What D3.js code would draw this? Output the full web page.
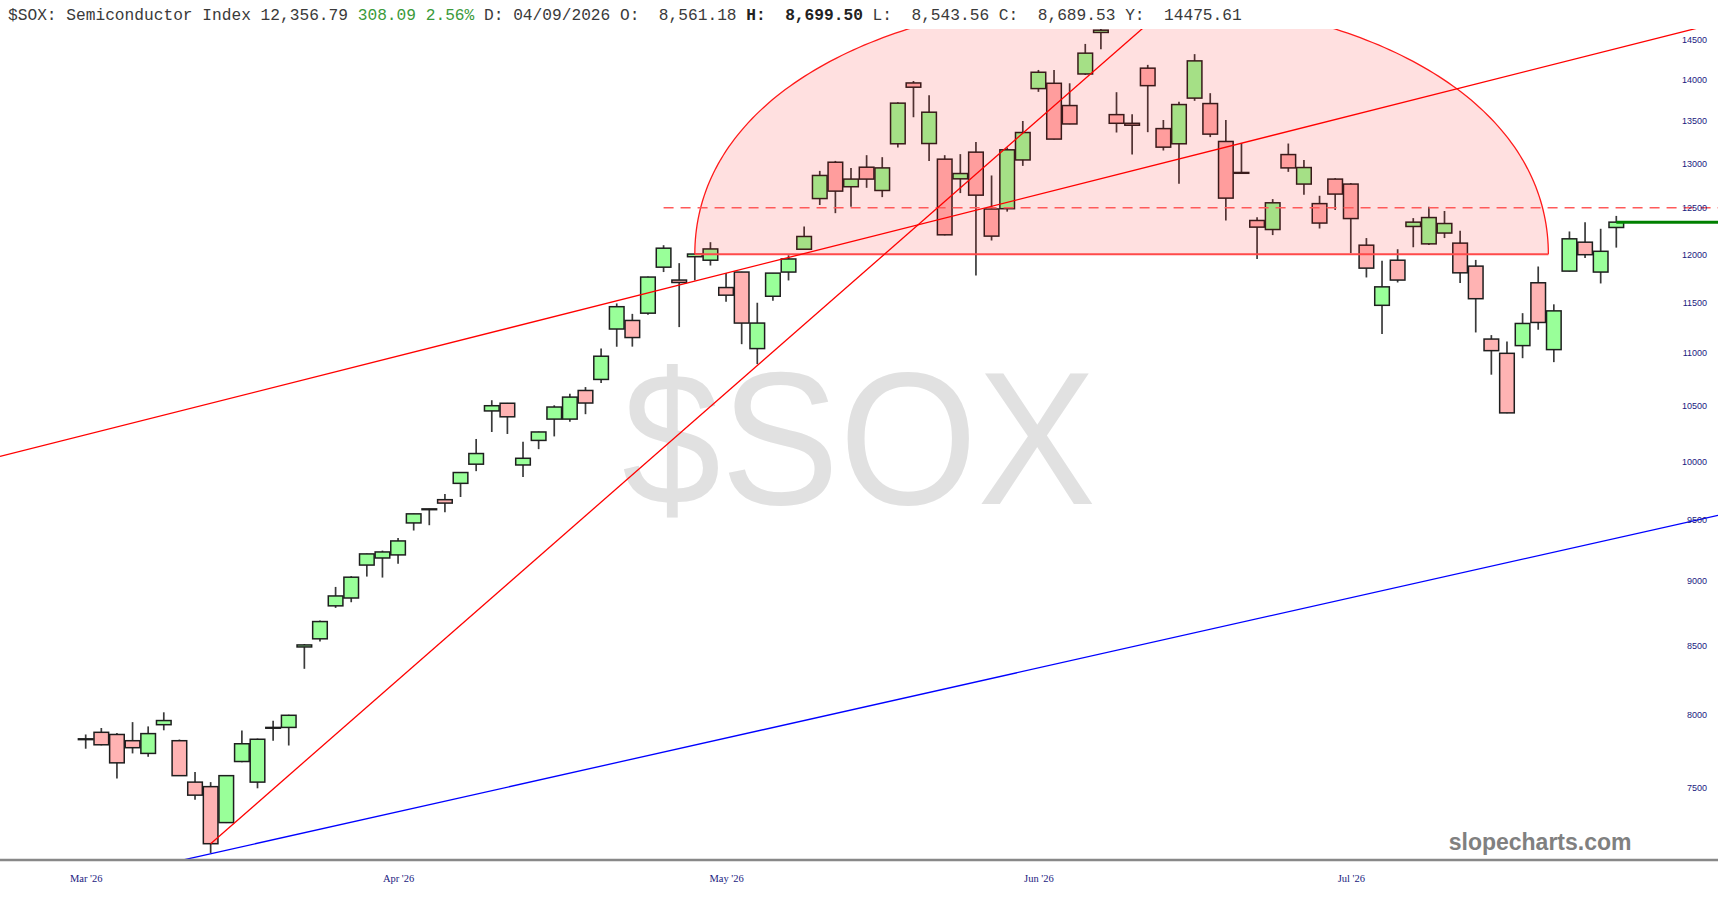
<!DOCTYPE html>
<html>
<head>
<meta charset="utf-8">
<script src="https://cdn.jsdelivr.net/npm/d3@7"></script>
<style>
html,body{margin:0;padding:0;background:#fff;}
svg{display:block;}
</style>
</head>
<body>
<script>
// ---------- DATA ----------
const opens  = [7828,7875,7860,7817,7730,7928,7817,7537,7507,7273,7675,7537,7909,7909,8490,8551,8803,8864,9125,9182,
  9207,9470,9588,9666,9806,9973,10452,10523,9966,10184,10377,10377,10642,10746,11234,11319,11392,11863,11729,11973,
  11936,11652,11812,11042,11563,11812,12052,12602,13012,12734,12955,12692,13225,13953,13228,13047,12823,13128,12487,12490,
  13038,13884,13949,13678,14064,14588,13569,13466,14136,13403,13225,13768,13702,13252,12895,12361,12263,13100,12764,12546,
  12820,12764,12095,11471,11936,12296,12109,12225,12117,11874,11135,10996,11071,11701,11032,11822,12127,11812,12285];
const highs  = [7860,7905,7871,7946,7916,8015,7825,7605,7537,7583,7887,7832,7955,7998,8512,8690,8951,9036,9218,9242,
  9345,9548,9590,9715,9902,10197,10551,10526,10172,10263,10504,10611,10674,11042,11490,11385,11765,12095,11905,12003,
  12127,11801,11815,11497,11803,11988,12296,12913,13027,12947,13093,13070,13719,13977,13804,13093,13105,13245,12861,13182,
  13493,14114,14114,13949,14441,14640,13840,13574,14177,13505,13723,14312,13828,13505,13233,12397,12596,13228,13038,12633,
  12831,12775,12171,11929,12052,12387,12512,12465,12249,11939,11174,11111,11392,11870,11481,12242,12343,12271,12411];
const lows   = [7762,7785,7561,7730,7707,7889,7578,7421,7081,7270,7670,7496,7817,7784,8328,8530,8787,8831,9033,9025,
  9136,9407,9451,9560,9689,9912,10260,10242,9861,10106,10220,10353,10422,10712,11060,11061,11375,11812,11253,11725,
  11880,11507,11085,10892,11517,11725,12048,12531,12441,12512,12722,12618,13182,13538,13027,12200,12663,11776,12145,12458,
  12970,13844,13275,13455,14052,14374,13357,13100,13361,13147,12767,13735,13303,12361,12885,11949,12203,12902,12644,12274,
  12476,12009,11756,11184,11704,12073,12098,12171,11698,11200,10791,10430,10949,11227,10911,11818,11960,11694,12069];
const closes = [7830,7789,7666,7769,7866,7957,7580,7451,7139,7580,7796,7827,7907,7994,8505,8682,8880,9028,9215,9231,
  9321,9546,9586,9637,9900,10067,10500,10398,10025,10260,10488,10580,10525,10968,11457,11150,11760,12063,11704,12001,
  12055,11574,11293,11293,11801,11949,12188,12861,12685,12820,12820,12947,13707,13901,13598,12206,12883,12640,12192,13155,
  13357,14085,13280,13458,14324,14617,13466,13443,13920,13186,13690,14227,13338,12607,12890,12289,12555,12947,12951,12333,
  12652,12382,11853,11659,11729,12343,12393,12328,11804,11538,11022,10434,11289,11299,11415,12163,11994,12030,12343];

const monthLabels = ["Mar '26","Apr '26","May '26","Jun '26","Jul '26"];
const monthIdx    = [0, 20, 41, 61, 81];
const yTicks      = [7500,8000,8500,9000,9500,10000,10500,11000,11500,12000,12500,13000,13500,14000,14500];

// annotation anchors: [candle index, value]
const redLineA  = [[0, 10234], [98, 14382]];   // long red trendline
const redLineB  = [[8, 7139], [67, 14522]];    // steep red trendline
const blueLine  = [[8, 7076], [98, 9344]];     // blue support line
const arcSpan   = [39, 93.65];                 // semicircle start/end index
const arcValues = [12000, 15040];              // base value, top value
const dashLevel = [37, 12500];                 // start index, value

const titleParts = [
  {t:"$SOX: Semiconductor Index 12,356.79 ", c:"#3a3a3a", w:"normal"},
  {t:"308.09 2.56%", c:"#3a9a3a", w:"normal"},
  {t:" D: 04/09/2026 O:  8,561.18 ", c:"#3a3a3a", w:"normal"},
  {t:"H:  8,699.50", c:"#222", w:"bold"},
  {t:" L:  8,543.56 C:  8,689.53 Y:  14475.61", c:"#3a3a3a", w:"normal"}
];

// ---------- CHART ----------
const W = 1718, H = 900;
const plotTop = 29, plotBottom = 860;

const svg = d3.select("body").append("svg").attr("width", W).attr("height", H);

const x = d3.scaleLinear().domain([0, 98]).range([85.7, 1616.3]);
const y = d3.scaleLog().domain([7500, 14500]).range([787.7, 39.3]);
const step = x(1) - x(0);
const bw = step - 1;

svg.append("defs").append("clipPath").attr("id", "plot")
  .append("rect").attr("x", 0).attr("y", plotTop).attr("width", W).attr("height", plotBottom - plotTop);

// title
const title = svg.append("text").attr("x", 8).attr("y", 20)
  .attr("font-family", "'Liberation Mono','Courier New',monospace")
  .attr("font-size", 16.2).style("white-space", "pre");
titleParts.forEach(p => title.append("tspan").text(p.t).attr("fill", p.c).attr("font-weight", p.w));

// watermark
svg.append("text").attr("x", 859).attr("y", 504).attr("text-anchor", "middle")
  .attr("font-family", "'Liberation Sans',Arial,sans-serif").attr("font-size", 190)
  .attr("textLength", 474).attr("lengthAdjust", "spacingAndGlyphs")
  .attr("fill", "#e1e1e1").text("$SOX");

svg.append("text").attr("x", 1631.5).attr("y", 850).attr("text-anchor", "end")
  .attr("font-family", "'Liberation Sans',Arial,sans-serif").attr("font-size", 23)
  .attr("font-weight", "bold").attr("fill", "#808080").text("slopecharts.com");

const g = svg.append("g").attr("clip-path", "url(#plot)");

// candles
const idx = d3.range(opens.length);
g.append("g").selectAll("line").data(idx).join("line")
  .attr("x1", i => x(i)).attr("x2", i => x(i))
  .attr("y1", i => y(highs[i])).attr("y2", i => y(lows[i]))
  .attr("stroke", "#3a3a3a").attr("stroke-width", 1.7);

g.append("g").selectAll("rect").data(idx).join("rect")
  .attr("x", i => x(i) - bw / 2)
  .attr("y", i => y(Math.max(opens[i], closes[i])))
  .attr("width", bw)
  .attr("height", i => Math.max(0.8, Math.abs(y(opens[i]) - y(closes[i]))))
  .attr("fill", i => closes[i] >= opens[i] ? "#99ff99" : "#ffb3b3")
  .attr("stroke", "#1e1e1e").attr("stroke-width", 1.5);

// semicircle (drawn in value space, mapped through the log scale)
const ci = (arcSpan[0] + arcSpan[1]) / 2, ri = (arcSpan[1] - arcSpan[0]) / 2;
const arcPts = d3.range(0, 181).map(d => {
  const th = Math.PI - d * Math.PI / 180;
  return [x(ci + ri * Math.cos(th)), y(arcValues[0] + (arcValues[1] - arcValues[0]) * Math.sin(th))];
});
g.append("path").attr("d", d3.line()(arcPts) + "Z")
  .attr("fill", "rgba(255,0,0,0.12)").attr("stroke", "none");
g.append("path").attr("d", d3.line()(arcPts))
  .attr("fill", "none").attr("stroke", "#ff1a1a").attr("stroke-width", 1.3);
g.append("line")
  .attr("x1", x(arcSpan[0])).attr("x2", x(arcSpan[1]))
  .attr("y1", y(arcValues[0])).attr("y2", y(arcValues[0]))
  .attr("stroke", "#ff4a4a").attr("stroke-width", 2);

// dashed level
g.append("line").attr("x1", x(dashLevel[0])).attr("x2", W)
  .attr("y1", y(dashLevel[1])).attr("y2", y(dashLevel[1]))
  .attr("stroke", "#ff5a5a").attr("stroke-width", 1.4).attr("stroke-dasharray", "10,7");

// trendlines
function extLine(pts, fromStart) {
  const [a, b] = pts.map(p => [x(p[0]), y(p[1])]);
  const m = (b[1] - a[1]) / (b[0] - a[0]);
  const x0 = fromStart ? a[0] : 0;
  return [[x0, a[1] + m * (x0 - a[0])], [W, a[1] + m * (W - a[0])]];
}
[[redLineA, false, "#ff0000"], [redLineB, true, "#ff0000"], [blueLine, false, "#0000ff"]].forEach(([pts, fs, col]) => {
  const L = extLine(pts, fs);
  g.append("line").attr("x1", L[0][0]).attr("y1", L[0][1]).attr("x2", L[1][0]).attr("y2", L[1][1])
    .attr("stroke", col).attr("stroke-width", 1.3);
});

// last price line
const last = closes.length - 1;
g.append("line").attr("x1", x(last)).attr("x2", W)
  .attr("y1", y(closes[last])).attr("y2", y(closes[last]))
  .attr("stroke", "#008000").attr("stroke-width", 3);

// bottom axis line
svg.append("line").attr("x1", 0).attr("x2", W).attr("y1", plotBottom).attr("y2", plotBottom)
  .attr("stroke", "#888").attr("stroke-width", 2.5);

// y axis labels
const yAxis = svg.append("g").attr("transform", "translate(1707,0)")
  .call(d3.axisLeft(y).tickValues(yTicks).tickSize(0).tickPadding(0).tickFormat(d3.format("d")));
yAxis.select(".domain").remove();
yAxis.selectAll("text").attr("fill", "#1a1a80")
  .attr("font-family", "'Liberation Sans',Tahoma,sans-serif").attr("font-size", 9);

// x axis labels
const xAxis = svg.append("g").attr("transform", `translate(0,${plotBottom})`)
  .call(d3.axisBottom(x).tickValues(monthIdx).tickSize(0).tickPadding(14.5)
    .tickFormat((d, i) => monthLabels[i]));
xAxis.select(".domain").remove();
xAxis.selectAll("text").attr("fill", "#1a1a80")
  .attr("font-family", "'Liberation Serif','Times New Roman',serif").attr("font-size", 10.5);
</script>
</body>
</html>
